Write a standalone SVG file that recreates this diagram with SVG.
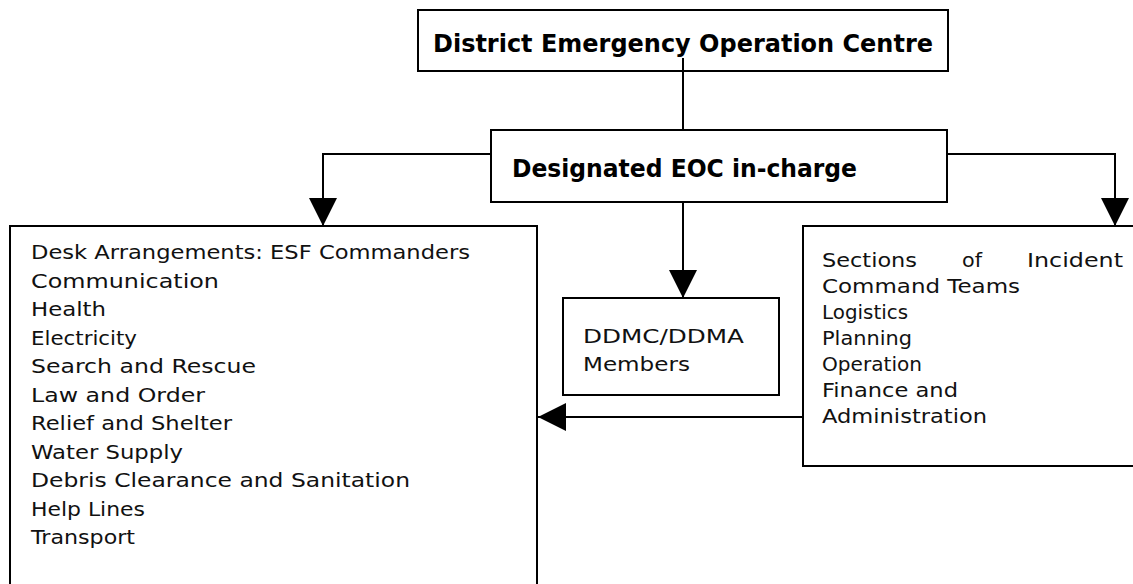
<svg xmlns="http://www.w3.org/2000/svg" width="1133" height="584" viewBox="0 0 1133 584">
<defs>
<style>
.box{fill:#fff;stroke:#000;stroke-width:2}
.con{fill:none;stroke:#000;stroke-width:2}
.b{font-family:"DejaVu Sans","Liberation Sans",sans-serif;font-weight:bold;fill:#000}
.t{font-family:"DejaVu Sans","Liberation Sans",sans-serif;font-size:19px;fill:#111}
</style>
<marker id="arr" viewBox="0 0 28 28" refX="28" refY="14" markerWidth="28" markerHeight="28" orient="auto" markerUnits="userSpaceOnUse">
<path d="M0,0 L28,14 L0,28 z" fill="#000"/>
</marker>
</defs>
<rect width="1133" height="584" fill="#fff"/>
<g id="node-deoc">
<rect class="box" x="418" y="10" width="530" height="61"/>
<text class="b" x="433" y="52" font-size="25" textLength="500" lengthAdjust="spacingAndGlyphs">District Emergency Operation Centre</text>
</g>
<g id="node-incharge">
<rect class="box" x="491" y="130" width="456" height="72"/>
<text class="b" x="512" y="177" font-size="24" textLength="345" lengthAdjust="spacingAndGlyphs">Designated EOC in-charge</text>
</g>
<g id="node-desk">
<rect class="box" x="10" y="226" width="527" height="380"/>
<text class="t">
<tspan x="31" y="259" textLength="439" lengthAdjust="spacingAndGlyphs">Desk Arrangements: ESF Commanders</tspan>
<tspan x="31" y="287.5" textLength="188" lengthAdjust="spacingAndGlyphs">Communication</tspan>
<tspan x="31" y="316" textLength="75" lengthAdjust="spacingAndGlyphs">Health</tspan>
<tspan x="31" y="344.5" textLength="106" lengthAdjust="spacingAndGlyphs">Electricity</tspan>
<tspan x="31" y="373" textLength="225" lengthAdjust="spacingAndGlyphs">Search and Rescue</tspan>
<tspan x="31" y="401.5" textLength="174" lengthAdjust="spacingAndGlyphs">Law and Order</tspan>
<tspan x="31" y="430" textLength="201" lengthAdjust="spacingAndGlyphs">Relief and Shelter</tspan>
<tspan x="31" y="458.5" textLength="152" lengthAdjust="spacingAndGlyphs">Water Supply</tspan>
<tspan x="31" y="487" textLength="379" lengthAdjust="spacingAndGlyphs">Debris Clearance and Sanitation</tspan>
<tspan x="31" y="515.5" textLength="114" lengthAdjust="spacingAndGlyphs">Help Lines</tspan>
<tspan x="31" y="544" textLength="104" lengthAdjust="spacingAndGlyphs">Transport</tspan>
</text>
</g>
<g id="node-ddmc">
<rect class="box" x="563" y="298" width="216" height="97"/>
<text class="t">
<tspan x="583" y="343" textLength="161" lengthAdjust="spacingAndGlyphs">DDMC/DDMA</tspan>
<tspan x="583" y="371" textLength="107" lengthAdjust="spacingAndGlyphs">Members</tspan>
</text>
</g>
<g id="node-ict">
<rect class="box" x="803" y="226" width="345" height="240"/>
<text class="t">
<tspan x="822" y="267" textLength="95" lengthAdjust="spacingAndGlyphs">Sections</tspan>
<tspan x="962" y="267" textLength="20" lengthAdjust="spacingAndGlyphs">of</tspan>
<tspan x="1027" y="267" textLength="96" lengthAdjust="spacingAndGlyphs">Incident</tspan>
<tspan x="822" y="293" textLength="198" lengthAdjust="spacingAndGlyphs">Command Teams</tspan>
<tspan x="822" y="319" textLength="86" lengthAdjust="spacingAndGlyphs">Logistics</tspan>
<tspan x="822" y="345" textLength="90" lengthAdjust="spacingAndGlyphs">Planning</tspan>
<tspan x="822" y="371" textLength="100" lengthAdjust="spacingAndGlyphs">Operation</tspan>
<tspan x="822" y="397" textLength="136" lengthAdjust="spacingAndGlyphs">Finance and</tspan>
<tspan x="822" y="423" textLength="165" lengthAdjust="spacingAndGlyphs">Administration</tspan>
</text>
</g>
<g id="connectors">
<path class="con" d="M683,58 V130"/>
<path class="con" d="M491,154 H323 V226" marker-end="url(#arr)"/>
<path class="con" d="M947,154 H1115 V226" marker-end="url(#arr)"/>
<path class="con" d="M683,202 V298" marker-end="url(#arr)"/>
<path class="con" d="M803,417 H538" marker-end="url(#arr)"/>
</g>
</svg>
